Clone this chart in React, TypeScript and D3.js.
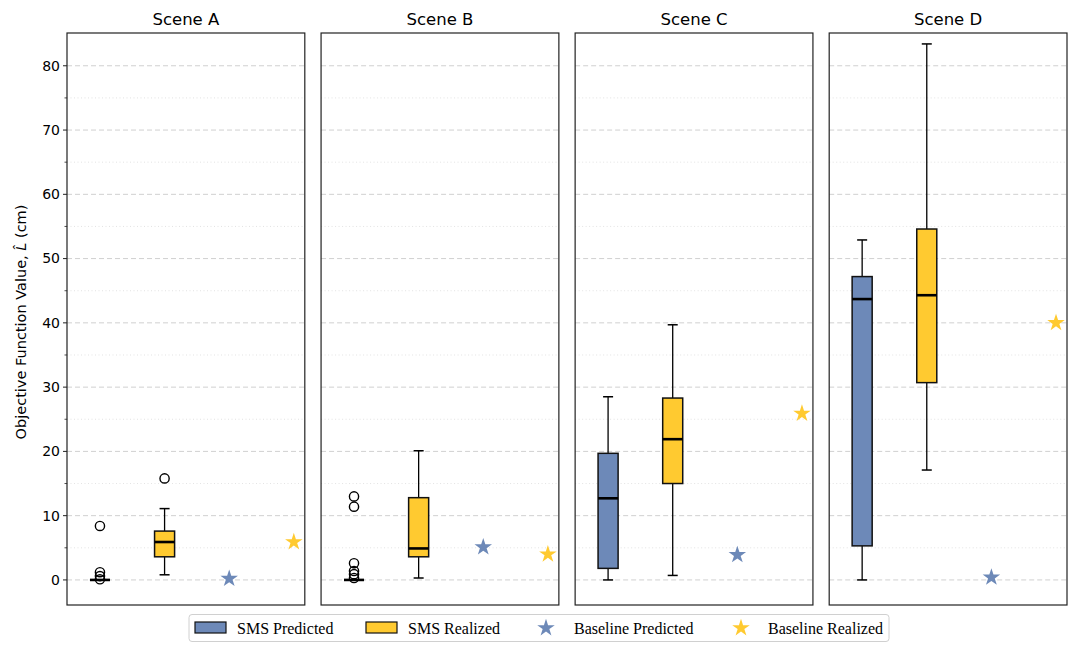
import * as d3 from "d3";

const scenes = ["Scene A", "Scene B", "Scene C", "Scene D"];

// SMS Predicted box stats per scene
const predWhiskerLo = [0, 0, 0, 0];
const predQ1 = [0, 0, 1.8, 5.3];
const predMedian = [0, 0, 12.7, 43.7];
const predQ3 = [0, 0, 19.7, 47.2];
const predWhiskerHi = [0, 0, 28.5, 52.9];
const predFliers = [[8.4, 1.2, 0.6, 0.1], [13.0, 11.4, 2.6, 1.4, 0.9, 0.3], [], []];

// SMS Realized box stats per scene
const realWhiskerLo = [0.8, 0.3, 0.7, 17.1];
const realQ1 = [3.6, 3.6, 15.0, 30.7];
const realMedian = [5.9, 4.9, 21.9, 44.3];
const realQ3 = [7.6, 12.8, 28.3, 54.6];
const realWhiskerHi = [11.1, 20.1, 39.7, 83.4];
const realFliers = [[15.8], [], [], []];

// Baseline stars
const basePred = [0.2, 5.1, 3.9, 0.4];
const baseReal = [5.9, 4.0, 25.9, 40.0];

const yMajor = [0, 10, 20, 30, 40, 50, 60, 70, 80];
const yMinor = [5, 15, 25, 35, 45, 55, 65, 75];

const blue = "#6d89b8";
const yellow = "#ffca30";

const W = 1079;
const H = 652;
const top = 33;
const bottom = 605;

export default function App() {
  const panel = d3.scaleBand<string>().domain(scenes).range([67, 1067]).paddingInner(0.064);
  const y = d3.scaleLinear([-3.9, 85.1], [bottom, top]);
  const pw = panel.bandwidth();
  const star = d3.symbol(d3.symbolStar, 95)() || "";
  const boxW = 0.31;

  const drawBox = (
    x: d3.ScaleLinear<number, number>,
    pos: number,
    lo: number,
    q1: number,
    med: number,
    q3: number,
    hi: number,
    fliers: number[],
    fill: string
  ) => {
    const cx = x(pos);
    const half = (x(pos + boxW / 2) - x(pos - boxW / 2)) / 2;
    const cap = half / 2;
    return (
      <g>
        <line x1={cx} x2={cx} y1={y(q3)} y2={y(hi)} stroke="#000" strokeWidth={1.3} />
        <line x1={cx} x2={cx} y1={y(q1)} y2={y(lo)} stroke="#000" strokeWidth={1.3} />
        <line x1={cx - cap} x2={cx + cap} y1={y(hi)} y2={y(hi)} stroke="#000" strokeWidth={1.5} />
        <line x1={cx - cap} x2={cx + cap} y1={y(lo)} y2={y(lo)} stroke="#000" strokeWidth={1.5} />
        <rect
          x={cx - half}
          y={y(q3)}
          width={half * 2}
          height={Math.max(0, y(q1) - y(q3))}
          fill={fill}
          stroke="#111"
          strokeWidth={1.5}
        />
        <line x1={cx - half} x2={cx + half} y1={y(med)} y2={y(med)} stroke="#000" strokeWidth={2.6} />
        {fliers.map((f, i) => (
          <circle key={i} cx={cx} cy={y(f)} r={4.6} fill="none" stroke="#000" strokeWidth={1.4} />
        ))}
      </g>
    );
  };

  return (
    <svg width={W} height={H} style={{ position: "absolute", left: 0, top: 0, background: "#fff" }}
      fontFamily="DejaVu Sans, sans-serif">
      {scenes.map((s, i) => {
        const x0 = panel(s) as number;
        const x = d3.scaleLinear([0.49, 4.17], [x0, x0 + pw]);
        return (
          <g key={s}>
            {yMinor.map((v) => (
              <line key={"mi" + v} x1={x0} x2={x0 + pw} y1={y(v)} y2={y(v)}
                stroke="#dcdcdc" strokeWidth={0.8} strokeDasharray="1,2.5" />
            ))}
            {yMajor.map((v) => (
              <line key={"ma" + v} x1={x0} x2={x0 + pw} y1={y(v)} y2={y(v)}
                stroke="#d0d0d0" strokeWidth={1} strokeDasharray="5,3" />
            ))}
            {drawBox(x, 1, predWhiskerLo[i], predQ1[i], predMedian[i], predQ3[i], predWhiskerHi[i], predFliers[i], blue)}
            {drawBox(x, 2, realWhiskerLo[i], realQ1[i], realMedian[i], realQ3[i], realWhiskerHi[i], realFliers[i], yellow)}
            <path d={star} transform={`translate(${x(3)},${y(basePred[i])})`} fill={blue} />
            <path d={star} transform={`translate(${x(4)},${y(baseReal[i])})`} fill={yellow} />
            <rect x={x0} y={top} width={pw} height={bottom - top} fill="none" stroke="#222" strokeWidth={1.2} />
            <text x={x0 + pw / 2} y={25} textAnchor="middle" fontSize={16.5} fill="#000">{s}</text>
            {i === 0 && (
              <g>
                {yMajor.map((v) => (
                  <g key={"t" + v}>
                    <line x1={x0 - 4} x2={x0} y1={y(v)} y2={y(v)} stroke="#222" strokeWidth={1} />
                    <text x={x0 - 7} y={y(v)} dy="0.35em" textAnchor="end" fontSize={14} fill="#000">{v}</text>
                  </g>
                ))}
                {yMinor.map((v) => (
                  <line key={"tm" + v} x1={x0 - 2.5} x2={x0} y1={y(v)} y2={y(v)} stroke="#222" strokeWidth={0.8} />
                ))}
              </g>
            )}
          </g>
        );
      })}
      <text transform={`translate(26,${322}) rotate(-90)`} textAnchor="middle" fontSize={14.5} fill="#000">
        Objective Function Value, <tspan fontStyle="italic">L&#770;</tspan> (cm)
      </text>
      <g fontFamily="Liberation Serif, serif" fontSize={16}>
        <rect x={189} y={614.5} width={700} height={27} rx={3} fill="#fff" stroke="#d0d0d0" strokeWidth={1} />
        <rect x={195} y={622} width={31} height={11} fill={blue} stroke="#111" strokeWidth={1.2} />
        <text x={237} y={633.5}>SMS Predicted</text>
        <rect x={366} y={622} width={31} height={11} fill={yellow} stroke="#111" strokeWidth={1.2} />
        <text x={408} y={633.5}>SMS Realized</text>
        <path d={star} transform="translate(546,628)" fill={blue} />
        <text x={574} y={633.5}>Baseline Predicted</text>
        <path d={star} transform="translate(741,628)" fill={yellow} />
        <text x={768} y={633.5}>Baseline Realized</text>
      </g>
    </svg>
  );
}
